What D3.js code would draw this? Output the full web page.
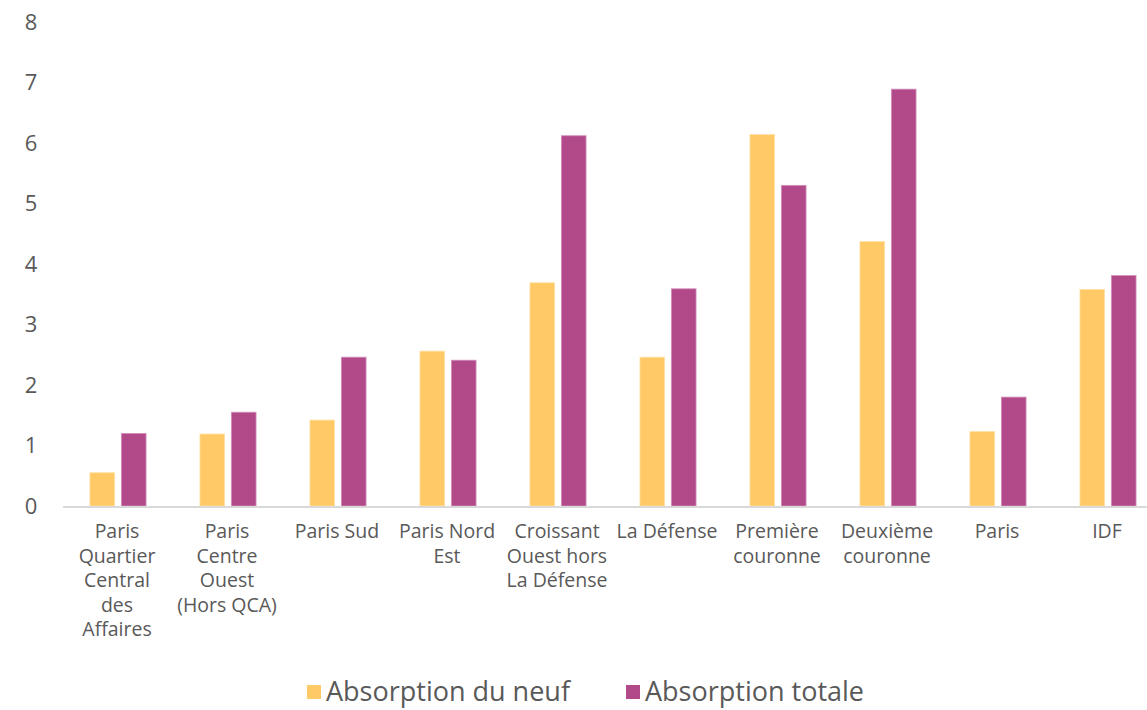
<!DOCTYPE html>
<html>
<head>
<meta charset="utf-8">
<script src="https://cdn.jsdelivr.net/npm/d3@7"></script>
<style>
  body { margin: 0; background: #fff; }
  svg { display: block; font-family: 'Open Sans', sans-serif; }
</style>
</head>
<body>
<svg id="chart" width="1147" height="710"></svg>
<script>
const CATEGORIES = [
  'Paris\nQuartier\nCentral\ndes\nAffaires',
  'Paris\nCentre\nOuest\n(Hors QCA)',
  'Paris Sud',
  'Paris Nord\nEst',
  'Croissant\nOuest hors\nLa Défense',
  'La Défense',
  'Première\ncouronne',
  'Deuxième\ncouronne',
  'Paris',
  'IDF',
]
const NEUF = [0.55, 1.19, 1.42, 2.56, 3.69, 2.46, 6.14, 4.37, 1.23, 3.58]
const TOTALE = [1.2, 1.55, 2.46, 2.41, 6.12, 3.59, 5.3, 6.89, 1.8, 3.81]
const SERIES = ['Absorption du neuf', 'Absorption totale']
const Y_TICKS = [0, 1, 2, 3, 4, 5, 6, 7, 8]

const COLORS = {
  neuf: '#FFCA66',
  totale: '#B24A8A',
  text: '#595959',
  axis: '#D9D9D9',
}

const svg = d3.select('#chart')

const x = d3.scaleBand().domain(CATEGORIES).range([63, 1163]).paddingInner(0).paddingOuter(0)
const y = d3.scaleLinear().domain([0, 8]).range([506, 22])
const barW = 24.7
const gap = 6.7

// y tick labels
svg.append('g')
  .selectAll('text')
  .data(Y_TICKS)
  .join('text')
  .attr('x', 31)
  .attr('y', d => y(d))
  .attr('dy', '0.36em')
  .attr('text-anchor', 'middle')
  .attr('fill', COLORS.text)
  .style('font-size', '22px')
  .text(d => d)

// bars
const groups = svg.append('g')
  .selectAll('g')
  .data(CATEGORIES.map((c, i) => ({ c, neuf: NEUF[i], totale: TOTALE[i] })))
  .join('g')
  .attr('transform', d => `translate(${x(d.c) + x.bandwidth() / 2},0)`)

groups.append('rect')
  .attr('x', -gap / 2 - barW)
  .attr('width', barW)
  .attr('y', d => y(d.neuf))
  .attr('height', d => y(0) - y(d.neuf))
  .attr('fill', COLORS.neuf)
  .attr('stroke', '#FFE0A6')
  .attr('stroke-width', 0.8)

groups.append('rect')
  .attr('x', gap / 2)
  .attr('width', barW)
  .attr('y', d => y(d.totale))
  .attr('height', d => y(0) - y(d.totale))
  .attr('fill', COLORS.totale)
  .attr('stroke', '#D38FBA')
  .attr('stroke-width', 0.8)

// axis line
svg.append('line')
  .attr('x1', 63).attr('x2', 1147)
  .attr('y1', y(0) + 1).attr('y2', y(0) + 1)
  .attr('stroke', COLORS.axis)
  .attr('stroke-width', 2)

// category labels
const labels = svg.append('g')
  .selectAll('text')
  .data(CATEGORIES)
  .join('text')
  .attr('text-anchor', 'middle')
  .attr('fill', COLORS.text)
  .style('font-size', '19.5px')
  .attr('transform', d => `translate(${x(d) + x.bandwidth() / 2 - 1},538)`)

labels.selectAll('tspan')
  .data(d => d.split('\n'))
  .join('tspan')
  .attr('x', 0)
  .attr('y', (_, i) => i * 24.5)
  .text(d => d)

// legend
const legendItems = [
  { name: SERIES[0], color: COLORS.neuf, x: 307 },
  { name: SERIES[1], color: COLORS.totale, x: 626 },
]
const legend = svg.append('g')
  .selectAll('g')
  .data(legendItems)
  .join('g')
  .attr('transform', d => `translate(${d.x},685)`)
legend.append('rect')
  .attr('width', 14).attr('height', 14)
  .attr('fill', d => d.color)
legend.append('text')
  .attr('x', 19)
  .attr('y', 7)
  .attr('dy', '0.34em')
  .attr('fill', COLORS.text)
  .style('font-size', '27px')
  .text(d => d.name)
</script>
</body>
</html>
